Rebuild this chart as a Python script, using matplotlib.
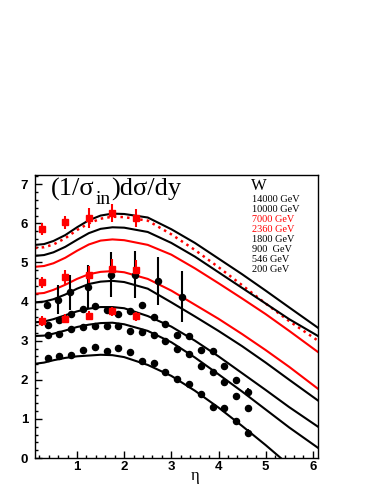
import matplotlib
matplotlib.use("Agg")
import matplotlib.pyplot as plt
from matplotlib.ticker import MultipleLocator

# ---------------- data ----------------
eta_curve = [0.11, 0.3, 0.5, 0.75, 1.0, 1.25, 1.5, 1.75, 2.0, 2.5, 3.0, 3.5, 4.0, 4.5, 5.0, 5.5, 6.11]
curve_14000 = [5.45, 5.47, 5.55, 5.70, 5.90, 6.08, 6.20, 6.25, 6.24, 6.15, 5.85, 5.50, 5.10, 4.70, 4.28, 3.85, 3.33]
curve_dotted = [5.37, 5.39, 5.46, 5.62, 5.83, 6.00, 6.12, 6.17, 6.16, 6.07, 5.72, 5.32, 4.88, 4.42, 3.95, 3.50, 3.00]
curve_10000 = [5.17, 5.19, 5.26, 5.40, 5.58, 5.75, 5.86, 5.90, 5.89, 5.78, 5.50, 5.15, 4.75, 4.35, 3.95, 3.55, 3.12]
curve_7000 = [4.89, 4.91, 4.98, 5.12, 5.30, 5.46, 5.56, 5.59, 5.57, 5.45, 5.20, 4.85, 4.47, 4.08, 3.68, 3.25, 2.71]
curve_2360 = [4.20, 4.22, 4.30, 4.43, 4.58, 4.70, 4.76, 4.78, 4.75, 4.58, 4.28, 3.92, 3.56, 3.17, 2.76, 2.33, 1.77]
curve_1800 = [3.98, 4.00, 4.06, 4.18, 4.33, 4.45, 4.51, 4.53, 4.50, 4.33, 3.98, 3.62, 3.25, 2.86, 2.44, 2.00, 1.47]
curve_900 = [3.47, 3.49, 3.55, 3.65, 3.75, 3.82, 3.86, 3.86, 3.83, 3.63, 3.36, 3.00, 2.60, 2.17, 1.74, 1.30, 0.80]
curve_546 = [3.12, 3.13, 3.18, 3.26, 3.35, 3.41, 3.45, 3.46, 3.42, 3.25, 2.96, 2.57, 2.14, 1.70, 1.24, 0.78, 0.26]
eta_curve_200 = [0.11, 0.3, 0.5, 0.75, 1.0, 1.25, 1.5, 1.75, 2.0, 2.5, 3.0, 3.5, 4.0, 4.5, 5.0, 5.32]
curve_200 = [2.41, 2.44, 2.50, 2.56, 2.60, 2.62, 2.64, 2.63, 2.58, 2.38, 2.10, 1.72, 1.29, 0.82, 0.33, 0.0]

# red data (squares)
eta_red = [0.25, 0.75, 1.25, 1.75, 2.25]
red_7000 = [5.86, 6.03, 6.14, 6.27, 6.14]
red_7000_err = [0.15, 0.17, 0.25, 0.23, 0.23]
red_2360 = [4.49, 4.63, 4.69, 4.84, 4.82]
red_2360_err = [0.15, 0.18, 0.22, 0.25, 0.25]
red_900 = [3.50, 3.56, 3.64, 3.75, 3.62]
red_900_err = [0.12, 0.12, 0.12, 0.12, 0.12]

# black data with large errors
eta_big = [0.36, 0.60, 0.85, 1.23, 1.72, 2.23, 2.72, 3.22]
big_y = [3.92, 4.05, 4.24, 4.38, 4.69, 4.69, 4.52, 4.13]
big_err = [0.10, 0.38, 0.45, 0.55, 0.58, 0.60, 0.62, 0.64]

# black dots (three series)
eta_dots = [0.375, 0.625, 0.875, 1.125, 1.375, 1.625, 1.875, 2.125, 2.375,
            2.625, 2.875, 3.125, 3.375, 3.625, 3.875, 4.125, 4.375, 4.625]
dots_a = [3.39, 3.52, 3.69, 3.80, 3.88, 3.78, 3.68, 3.75, 3.92,
          3.60, 3.43, 3.15, 3.11, 2.75, 2.73, 2.34, 2.00, 1.70]
dots_b = [3.15, 3.17, 3.30, 3.35, 3.38, 3.38, 3.38, 3.25, 3.21,
          3.15, 3.00, 2.80, 2.65, 2.35, 2.20, 1.94, 1.58, 1.28]
dots_c = [2.56, 2.62, 2.64, 2.77, 2.84, 2.73, 2.81, 2.71, 2.49,
          2.44, 2.21, 2.02, 1.90, 1.64, 1.30, 1.28, 0.95, 0.65]

legend_labels = ["14000 GeV", "10000 GeV", "7000 GeV", "2360 GeV",
                 "1800 GeV", "900  GeV", "546 GeV", "200 GeV"]
legend_colors = ["black", "black", "red", "red", "black", "black", "black", "black"]

# ---------------- figure ----------------
W, H = 382, 494
fig = plt.figure(figsize=(W / 100, H / 100), dpi=100)
ax = fig.add_axes([35.3 / W, 1 - 458 / H, (318 - 35.3) / W, (458 - 174.5) / H])

lw = 1.5
for ys, c, ls in [(curve_14000, "black", "-"), (curve_dotted, "red", ":"),
                  (curve_10000, "black", "-"), (curve_7000, "red", "-"),
                  (curve_2360, "red", "-"), (curve_1800, "black", "-"),
                  (curve_900, "black", "-"), (curve_546, "black", "-")]:
    ax.plot(eta_curve, ys, color=c, ls=ls, lw=lw if ls == "-" else 1.8)
ax.plot(eta_curve_200, curve_200, color="black", lw=lw)

# black dots
for ys in (dots_a, dots_b, dots_c):
    ax.plot(eta_dots, ys, "o", color="black", ms=4.4, mec="black")
ax.errorbar([eta_dots[-1]], [dots_a[-1]], yerr=[0.1], fmt="none", ecolor="black", elinewidth=1.3)
ax.errorbar([eta_dots[-1]], [dots_c[-1]], yerr=[0.08], fmt="none", ecolor="black", elinewidth=1.3)

# black data with large errors
ax.errorbar(eta_big, big_y, yerr=big_err, fmt="o", color="black", ms=4.4,
            elinewidth=1.5, capsize=0)

# red squares
for ys, es in [(red_7000, red_7000_err), (red_2360, red_2360_err), (red_900, red_900_err)]:
    ax.errorbar(eta_red, ys, yerr=es, fmt="s", color="red", ms=5, elinewidth=1.5,
                capsize=0, mec="red")

ax.set_xlim(0.115, 6.11)
ax.set_ylim(0, 7.25)
ax.xaxis.set_major_locator(MultipleLocator(1))
ax.xaxis.set_minor_locator(MultipleLocator(0.2))
ax.yaxis.set_major_locator(MultipleLocator(1))
ax.yaxis.set_minor_locator(MultipleLocator(0.2))
ax.tick_params(which="both", direction="in", top=False, right=False, width=1)
ax.tick_params(which="major", length=5)
ax.tick_params(which="minor", length=2.5)
ax.tick_params(axis="x", pad=2.5)
ax.tick_params(axis="y", pad=5)
for lab in ax.get_xticklabels() + ax.get_yticklabels():
    lab.set_fontfamily("Liberation Sans")
    lab.set_fontweight("bold")
    lab.set_fontsize(9.5)
for s in ax.spines.values():
    s.set_linewidth(1.0)

# title text, built from three pieces (main, subscript, main)
renderer = fig.canvas.get_renderer()
x_px = 51.0
pieces = [("(1/σ", 19, 196.0), ("in", 14, 203.5), (")dσ/dy", 19, 196.0)]
for txt, fs, base in pieces:
    t = fig.text(x_px / W, 1 - base / H, txt, fontsize=fs, va="baseline", ha="left",
                 family="Liberation Serif")
    bb = t.get_window_extent(renderer=renderer)
    x_px += bb.width + 0.5

# legend text
fig.text(251 / W, 1 - 190 / H, "W", fontsize=12, family="Liberation Serif",
         ha="left", va="baseline")
for i, (lab, c) in enumerate(zip(legend_labels, legend_colors)):
    fig.text(252 / W, 1 - (202.5 + 9.95 * i) / H, lab, fontsize=7.4,
             family="Liberation Serif", color=c, ha="left", va="baseline")

# axis title
fig.text(195 / W, 1 - 480 / H, "η", fontsize=12, family="Liberation Serif",
         ha="center", va="baseline")

fig.savefig("out.png", dpi=100)
